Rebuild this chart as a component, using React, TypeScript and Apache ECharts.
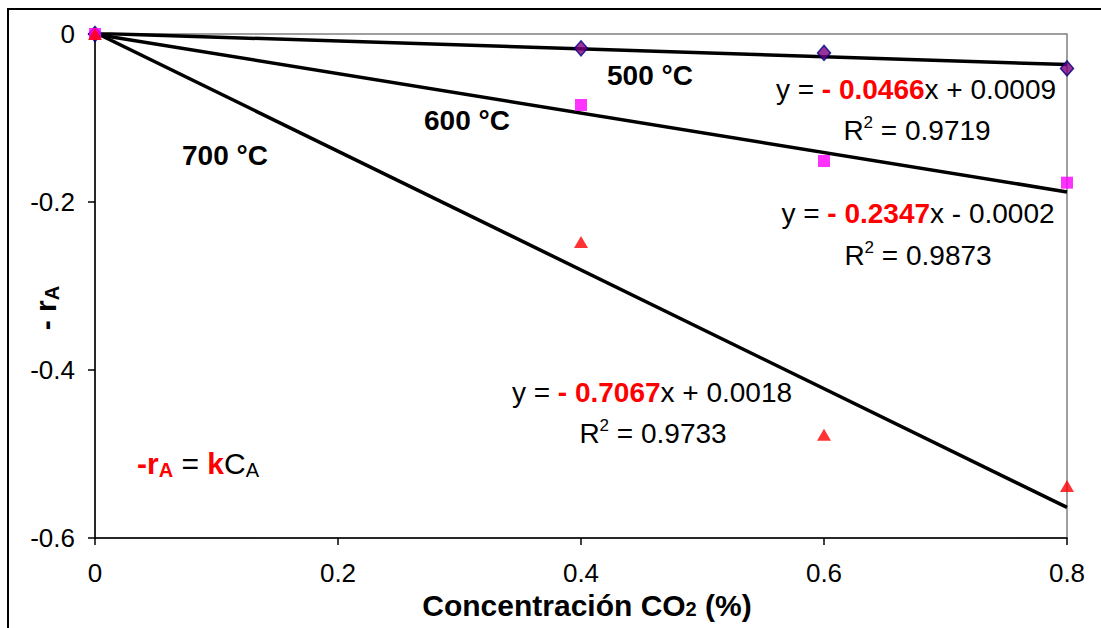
import React, { useEffect, useRef } from 'react';
import * as echarts from 'echarts';

const xValues = [0, 0.4, 0.6, 0.8];
const rate500 = [0, -0.017, -0.0225, -0.041];
const rate600 = [0, -0.0845, -0.1512, -0.177];
const rate700 = [0, -0.2476, -0.477, -0.538];
const trendX = [0, 0.8];
const trend500 = [0.0009, -0.0364];
const trend600 = [-0.0002, -0.188];
const trend700 = [0.0018, -0.5636];
const seriesNames = ['500 °C', '600 °C', '700 °C'];
const slopes = ['- 0.0466', '- 0.2347', '- 0.7067'];
const intercepts = ['x + 0.0009', 'x - 0.0002', 'x + 0.0018'];
const r2Values = ['0.9719', '0.9873', '0.9733'];

const F = 'Liberation Sans, Arial, sans-serif';

const pairs = (xs: number[], ys: number[]) => xs.map((x, i) => [x, ys[i]]);

const baseRich = {
  n: { fontSize: 28, fontFamily: F, fill: '#000', lineHeight: 32 },
  r: { fontSize: 28, fontFamily: F, fontWeight: 'bold', fill: '#ff0000', lineHeight: 32 },
  s: { fontSize: 17, fontFamily: F, fill: '#000', lineHeight: 17, verticalAlign: 'top' },
};

const txt = (x: number, y: number, text: string, rich: any, extra: any = {}) => ({
  type: 'text',
  x,
  y,
  z: 100,
  ...extra,
  style: { text, rich, align: 'center', verticalAlign: 'middle' },
});

export default function App() {
  const ref = useRef<HTMLDivElement>(null);
  useEffect(() => {
    if (!ref.current) return;
    const chart = echarts.init(ref.current, undefined, { renderer: 'svg' });
    const eqPos = [
      [916, 89, 917, 130],
      [918, 213, 918, 255],
      [652, 392, 653, 433],
    ];
    const labelPos = [
      [650, 75],
      [467, 120],
      [225, 155],
    ];
    const graphics: any[] = [
      {
        type: 'rect',
        shape: { x: 8, y: 9, width: 1200, height: 800 },
        style: { fill: 'none', stroke: '#000', lineWidth: 2 },
        z: 0,
      },
    ];
    eqPos.forEach((p, i) => {
      graphics.push(txt(p[0], p[1], `{n|y = }{r|${slopes[i]}}{n|${intercepts[i]}}`, baseRich));
      graphics.push(txt(p[2], p[3], `{n|R}{s|2}{n| = ${r2Values[i]}}`, baseRich));
    });
    labelPos.forEach((p, i) => {
      graphics.push(
        txt(p[0], p[1], `{b|${seriesNames[i]}}`, {
          b: { fontSize: 28, fontFamily: F, fontWeight: 'bold', fill: '#000' },
        })
      );
    });
    graphics.push(
      txt(45, 308, '{b|- r}{sb|A}', {
        b: { fontSize: 30, fontFamily: F, fontWeight: 'bold', fill: '#000', lineHeight: 34 },
        sb: { fontSize: 20, fontFamily: F, fontWeight: 'bold', fill: '#000', lineHeight: 20, verticalAlign: 'bottom' },
      }, { rotation: Math.PI / 2 })
    );
    graphics.push(
      txt(198, 463, '{rb|-r}{rs|A}{n| = }{rb|k}{n|C}{ns|A}', {
        rb: { fontSize: 30, fontFamily: F, fontWeight: 'bold', fill: '#ff0000', lineHeight: 34 },
        rs: { fontSize: 20, fontFamily: F, fontWeight: 'bold', fill: '#ff0000', lineHeight: 20, verticalAlign: 'bottom' },
        n: { fontSize: 30, fontFamily: F, fill: '#000', lineHeight: 34 },
        ns: { fontSize: 20, fontFamily: F, fill: '#000', lineHeight: 20, verticalAlign: 'bottom' },
      })
    );
    graphics.push(
      txt(587, 605, '{b|Concentración CO}{bs|2}{b| (%)}', {
        b: { fontSize: 30, fontFamily: F, fontWeight: 'bold', fill: '#000', lineHeight: 28 },
        bs: { fontSize: 20, fontFamily: F, fontWeight: 'bold', fill: '#000', lineHeight: 12, verticalAlign: 'bottom' },
      })
    );

    const lineSeries = (data: number[][]) => ({
      type: 'line',
      data,
      showSymbol: false,
      symbol: 'none',
      lineStyle: { color: '#000', width: 3.5 },
      z: 2,
    });

    chart.setOption({
      animation: false,
      backgroundColor: '#fff',
      grid: {
        left: 95,
        right: 34,
        top: 34,
        bottom: 90,
        show: true,
        borderColor: '#808080',
        borderWidth: 1.5,
      },
      xAxis: {
        type: 'value',
        min: 0,
        max: 0.8,
        interval: 0.2,
        splitLine: { show: false },
        axisLine: { show: true, onZero: false, lineStyle: { color: '#000', width: 1.5 } },
        axisTick: { show: true, length: 7, lineStyle: { color: '#000', width: 1.5 } },
        axisLabel: { fontSize: 26, fontFamily: F, color: '#000', margin: 22 },
      },
      yAxis: {
        type: 'value',
        min: -0.6,
        max: 0,
        interval: 0.2,
        splitLine: { show: false },
        axisLine: { show: true, onZero: false, lineStyle: { color: '#000', width: 1.5 } },
        axisTick: { show: true, length: 7, lineStyle: { color: '#000', width: 1.5 } },
        axisLabel: { fontSize: 26, fontFamily: F, color: '#000', margin: 20 },
      },
      series: [
        lineSeries(pairs(trendX, trend500)),
        lineSeries(pairs(trendX, trend600)),
        lineSeries(pairs(trendX, trend700)),
        {
          type: 'scatter',
          data: pairs(xValues, rate500),
          symbol: 'diamond',
          symbolSize: [13, 15],
          itemStyle: { color: '#800080', borderColor: '#000080', borderWidth: 1.5 },
          z: 3,
        },
        {
          type: 'scatter',
          data: pairs(xValues, rate600),
          symbol: 'rect',
          symbolSize: 12,
          itemStyle: { color: '#ff00ff' },
          z: 4,
        },
        {
          type: 'scatter',
          data: pairs(xValues, rate700),
          symbol: 'triangle',
          symbolSize: [14, 12],
          itemStyle: { color: '#ff0000' },
          z: 5,
        },
      ],
      graphic: graphics,
    });
    return () => chart.dispose();
  }, []);
  return (
    <div
      ref={ref}
      style={{ position: 'fixed', left: 0, top: 0, width: 1101, height: 628, background: '#fff' }}
    />
  );
}
